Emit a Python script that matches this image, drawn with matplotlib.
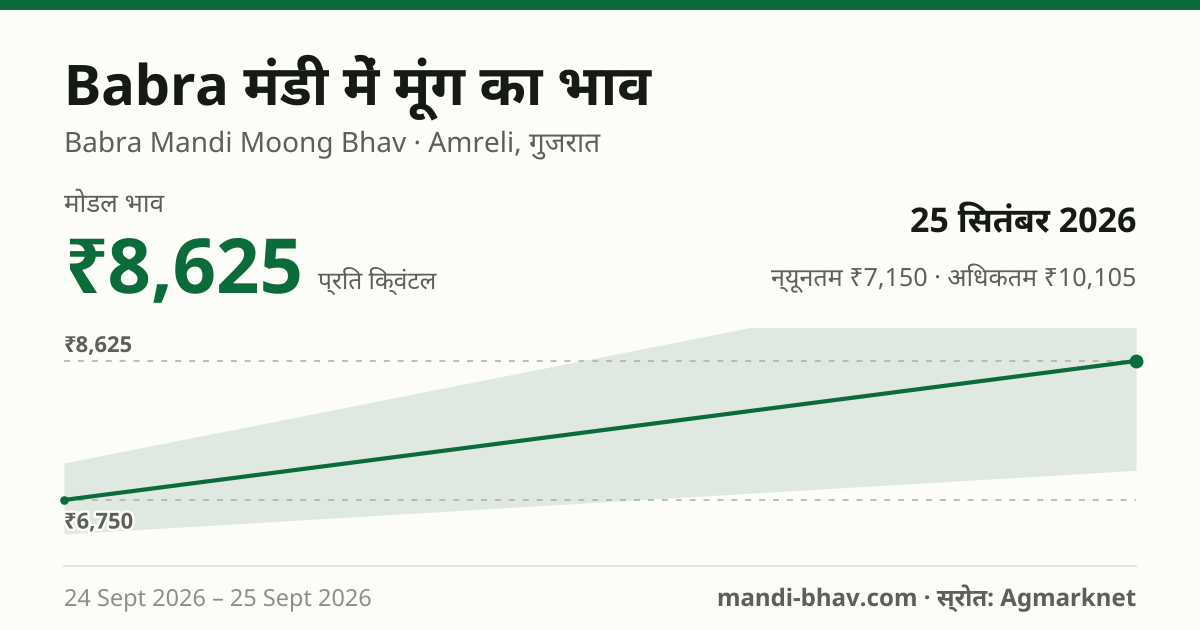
import os
import tempfile
import matplotlib
matplotlib.use("Agg")
import matplotlib.pyplot as plt
import matplotlib.patheffects as pe
import matplotlib.font_manager as fm
from fontTools.ttLib import TTFont
from fontTools.varLib import instancer

# data
dates = ["24 Sept 2026", "25 Sept 2026"]
modal = [6750, 8625]
low = [6291, 7150]
high = [7249, 10105]
ref_lines = [8625, 6750]
ymin, ymax = 6291, 9070

GREEN = "#0b6b3a"
BG = "#fcfdf9"
DARK = "#161a14"
MID = "#5c6158"
LIGHT = "#8c9087"

W, H = 1200, 630
FONT_DIR = "/usr/share/fonts/truetype/google-fonts/"


def make_bold(src, family, wght=700):
    """The installed Noto fonts are variable and matplotlib only draws their default weight."""
    font = TTFont(FONT_DIR + src)
    font = instancer.instantiateVariableFont(font, {"wght": wght, "wdth": 100})
    for rec in font["name"].names:
        if rec.nameID in (1, 4, 16):
            rec.string = family
        elif rec.nameID in (2, 17):
            rec.string = "Regular"
    path = os.path.join(tempfile.gettempdir(), family.replace(" ", "") + ".ttf")
    font.save(path)
    fm.fontManager.addfont(path)
    return family


def visual(s):
    """No text shaping in matplotlib: put the i-matra in front of its consonant cluster by hand."""
    out = list(s)
    for i, ch in enumerate(out):
        if ch == "\u093f":
            j = i - 1
            while j >= 2 and out[j - 1] == "\u094d":
                j -= 2
            out.insert(j, out.pop(i))
    return "".join(out)


BOLD = [make_bold("NotoSans[wdth,wght].ttf", "Noto Sans Static Bold"),
        make_bold("NotoSansDevanagari[wdth,wght].ttf", "Noto Deva Static Bold")]
REGULAR = ["Noto Sans", "Noto Sans Devanagari"]
plt.rcParams["font.family"] = REGULAR
plt.rcParams["text.hinting"] = "no_hinting"

fig = plt.figure(figsize=(W / 100, H / 100), dpi=100, facecolor=BG)


def txt(x, y, s, px, color, family=REGULAR, ha="left", **kw):
    # x, y in picture pixels, y is the text baseline
    return fig.text(x / W, 1 - y / H, visual(s), fontsize=px * 0.72, color=color,
                    family=family, ha=ha, va="baseline", **kw)


# top band
fig.patches.append(plt.Rectangle((0, 1 - 10 / H), 1, 10 / H, transform=fig.transFigure,
                                 facecolor=GREEN, edgecolor="none"))

txt(64, 104, "Babra मंडी में मूंग का भाव", 56, DARK, BOLD)
txt(64, 151.4, "Babra Mandi Moong Bhav · Amreli, गुजरात", 28, MID)
txt(64, 212, "मोडल भाव", 26, MID)
txt(64, 292, "₹8,625", 76, GREEN, BOLD)
txt(318, 290, "प्रति क्विंटल", 24.5, MID)
txt(1136, 232, "25 सितंबर 2026", 34, DARK, BOLD, ha="right")
txt(1136, 286, "न्यूनतम ₹7,150 · अधिकतम ₹10,105", 25.1, MID, ha="right")

ax = fig.add_axes([64 / W, 1 - 534 / H, (1136 - 64) / W, (534 - 328) / H])
ax.set_axis_off()
x = list(range(len(dates)))
ax.set_xlim(x[0], x[-1])
ax.set_ylim(ymin, ymax)
ax.fill_between(x, low, high, color="#dfe9e2", linewidth=0, zorder=1)
for v in ref_lines:
    ax.axhline(v, color="#aaaea6", linewidth=1.1, dashes=(3.9, 5.2), zorder=2)
ax.plot(x, modal, color=GREEN, linewidth=3.0, zorder=3, solid_capstyle="round")
ax.plot(x[0], modal[0], "o", color=GREEN, markersize=6.2, markeredgewidth=0, clip_on=False, zorder=4)
ax.plot(x[-1], modal[-1], "o", color=GREEN, markersize=10, markeredgewidth=0, clip_on=False, zorder=4)

txt(64, 352, "₹8,625", 22, MID, BOLD)
txt(64, 528.6, "₹6,750", 22, MID, BOLD,
    path_effects=[pe.withStroke(linewidth=3.5, foreground=BG)])

fig.add_artist(plt.Line2D([64 / W, 1136 / W], [1 - 566 / H] * 2, color="#e2e5df", linewidth=1.5))

txt(64, 605.4, dates[0] + " – " + dates[1], 23.5, LIGHT)
txt(1136, 605.4, "mandi-bhav.com · स्रोत: Agmarknet", 24.1, MID, BOLD, ha="right")

fig.savefig("out.png", dpi=100, facecolor=BG)
